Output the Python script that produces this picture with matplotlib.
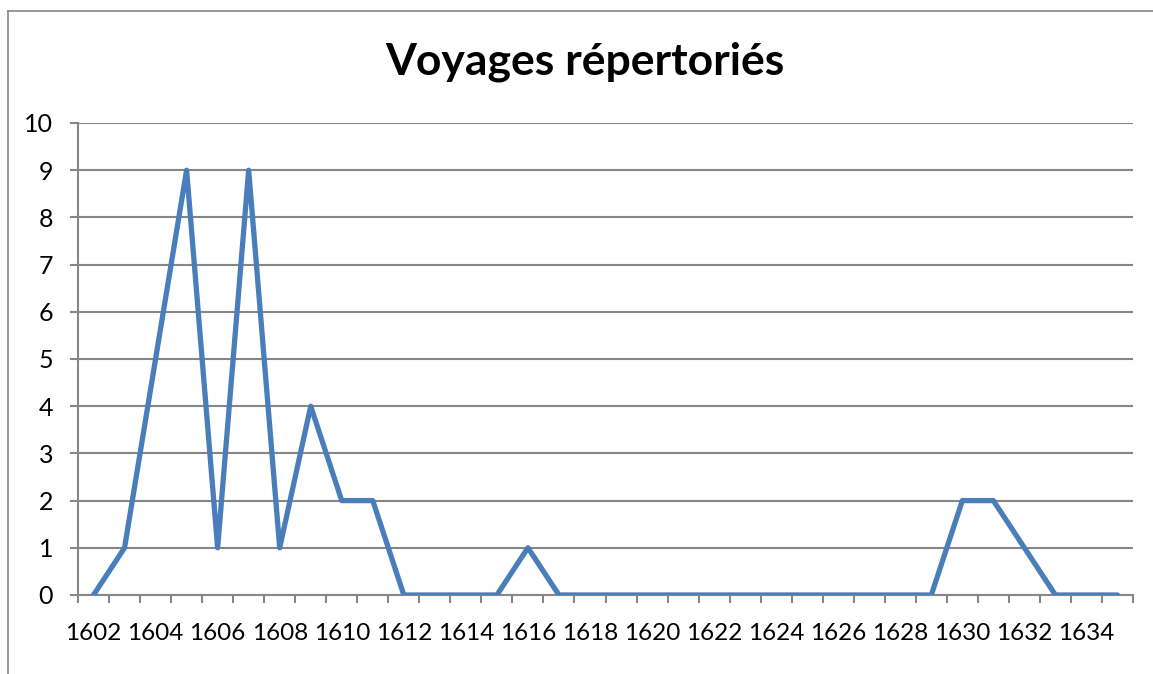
import matplotlib
matplotlib.use("Agg")
import matplotlib.pyplot as plt
import numpy as np
from matplotlib.lines import Line2D

years = list(range(1602, 1636))
voyages = [0, 1, 5, 9, 1, 9, 1, 4, 2, 2,
           0, 0, 0, 0, 1, 0, 0, 0, 0, 0,
           0, 0, 0, 0, 0, 0, 0, 0, 2, 2,
           1, 0, 0, 0]
title = "Voyages répertoriés"

plt.rcParams['font.family'] = ['Lato', 'DejaVu Sans']

W, H = 1153, 674
fig = plt.figure(figsize=(W / 100, H / 100), dpi=100)
ax = fig.add_axes([78 / W, 79 / H, (1133 - 78) / W, (595 - 123) / H])

grey = '#868686'
x = np.arange(len(years))
ax.plot(x, voyages, color='#4A7EBB', linewidth=3.8, solid_joinstyle='round', solid_capstyle='round', zorder=3)

ax.set_xlim(-0.5, len(years) - 0.5)
ax.set_ylim(0, 10)
ax.set_yticks(range(0, 11))
ax.set_xticks(x[::2])
ax.set_xticklabels([str(y) for y in years[::2]])
ax.set_xticks(np.arange(-0.5, len(years)), minor=True)

ax.grid(axis='y', color=grey, linewidth=1.5, zorder=1)
for s in ['top', 'right']:
    ax.spines[s].set_visible(False)
for s in ['left', 'bottom']:
    ax.spines[s].set_color(grey)
    ax.spines[s].set_linewidth(1.5)

ax.tick_params(axis='y', length=6, width=1.5, color=grey, labelsize=18, pad=12)
ax.tick_params(axis='x', which='major', length=0, labelsize=17.5, pad=20)
ax.tick_params(axis='x', which='minor', length=6, width=1.5, color=grey)

fig.text(585 / W, 1 - 62 / H, title, ha='center', va='center', fontsize=32, fontweight='bold')

# chart area border (top and left visible)
fig.add_artist(Line2D([8 / W, 1], [1 - 11 / H, 1 - 11 / H], color=grey, linewidth=1.2))
fig.add_artist(Line2D([8 / W, 8 / W], [0, 1 - 11 / H], color=grey, linewidth=1.2))

fig.savefig('out.png', dpi=100)
